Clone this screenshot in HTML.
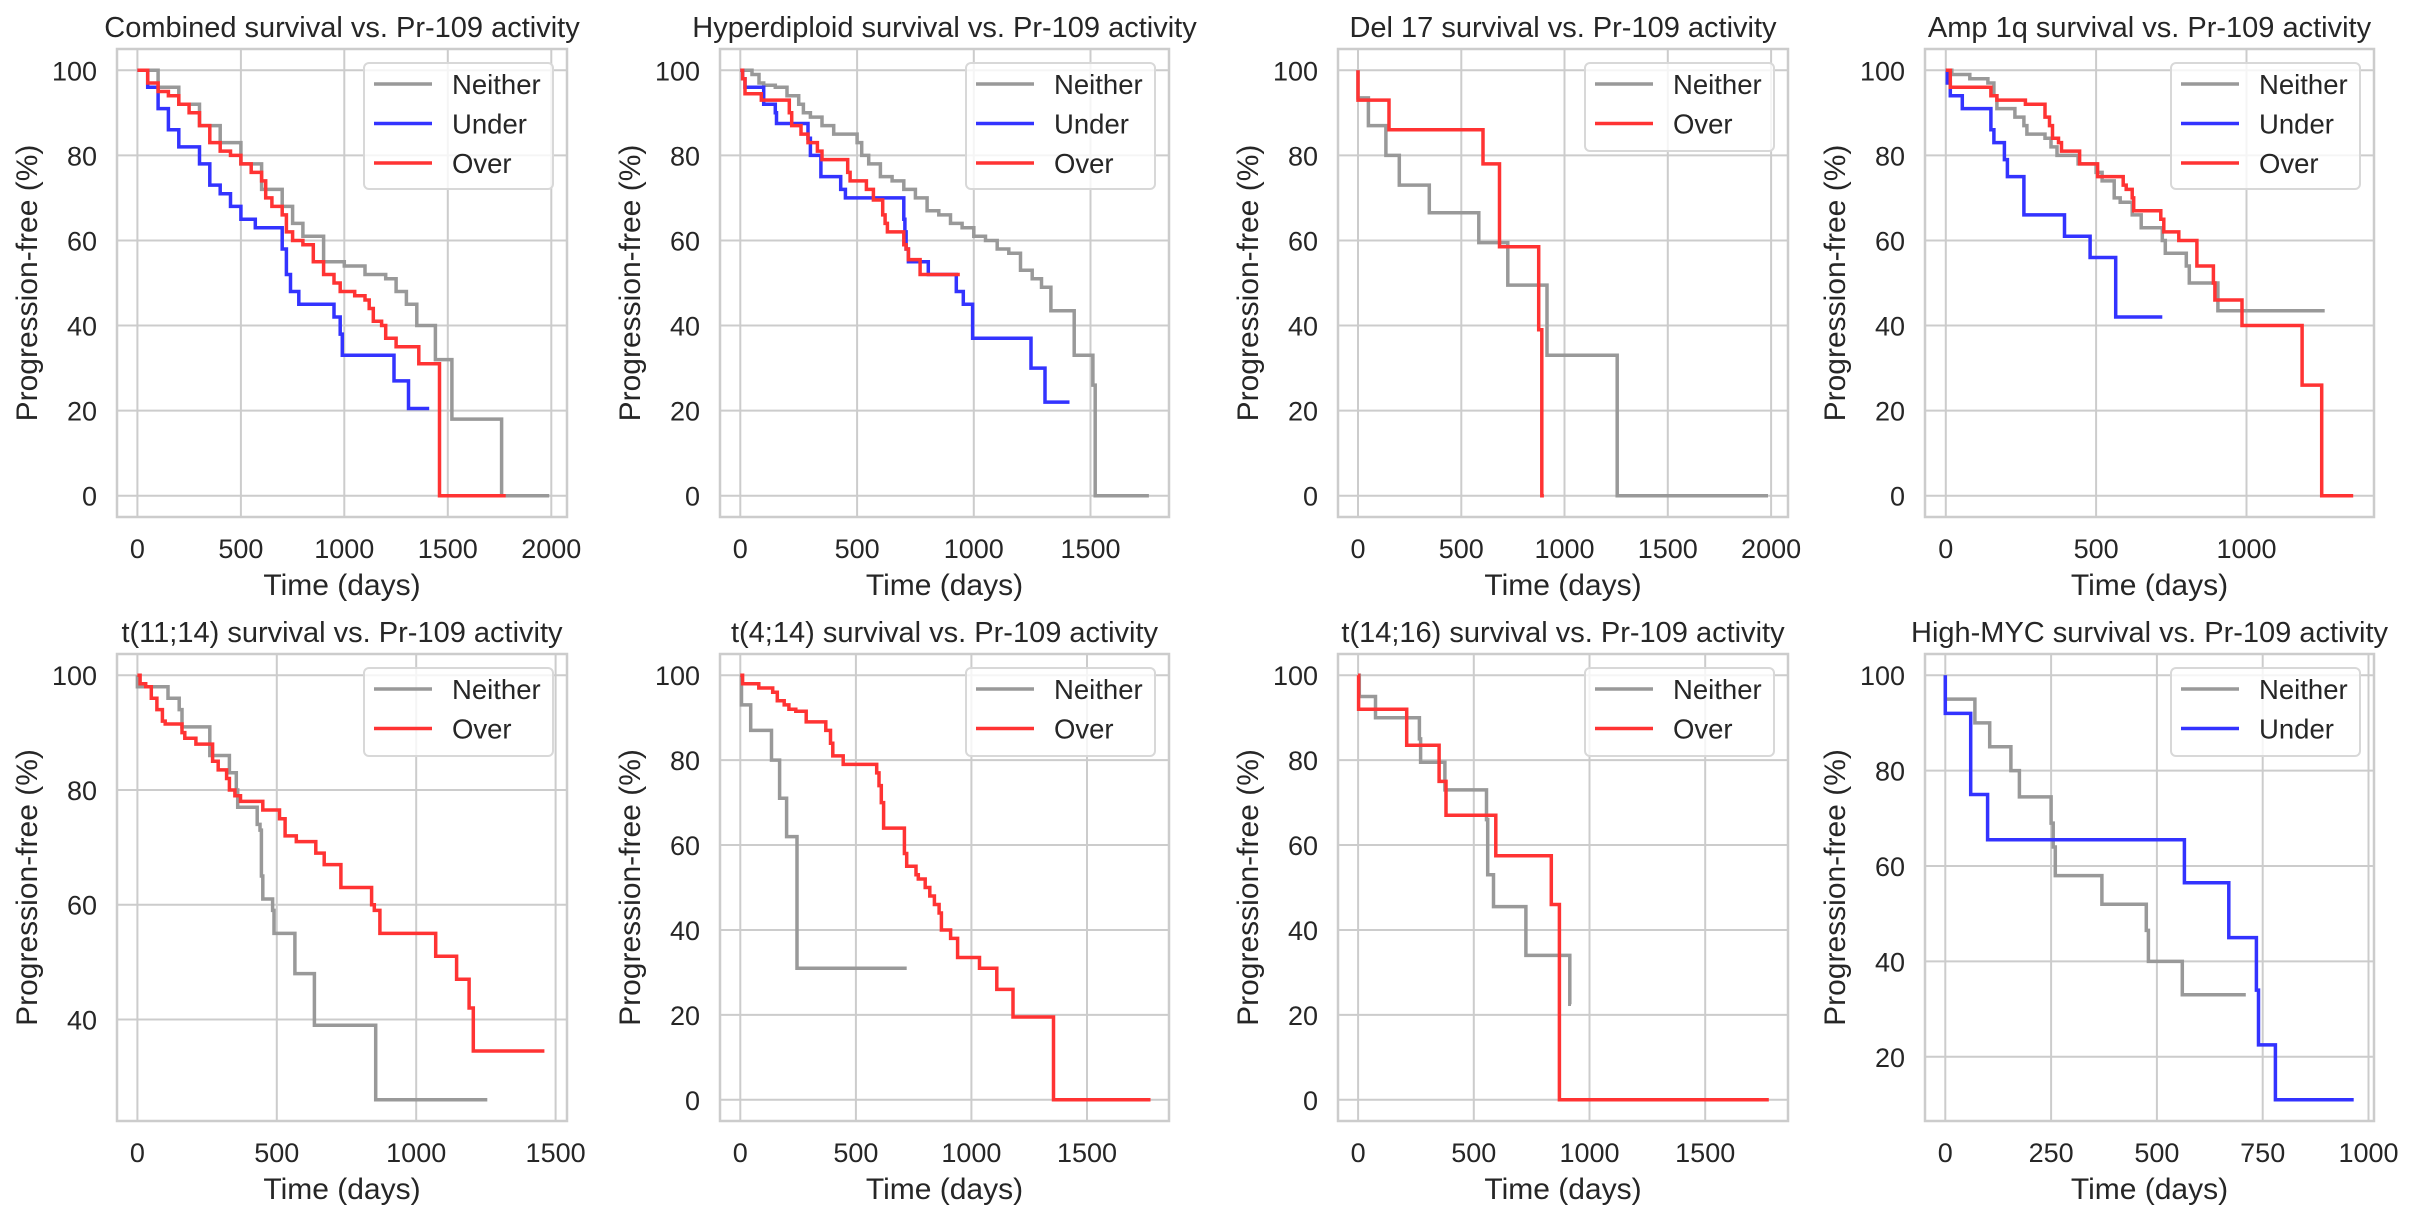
<!DOCTYPE html>
<html><head><meta charset="utf-8">
<style>
html,body{margin:0;padding:0;background:#fff;}
svg{display:block;}
text{font-family:"Liberation Sans","DejaVu Sans",sans-serif;fill:#262626;}
</style></head>
<body>
<svg id="s" width="2413" height="1218" xmlns="http://www.w3.org/2000/svg"></svg>
<script>
const G='#999999',B='#3333ff',R='#ff3333';
const P=[
{t:'Combined survival vs. Pr-109 activity',L:117,T:49,W:450,H:468,xl:[-98.5,2076],yl:[-5,105],xt:[0,500,1000,1500,2000],yt:[0,20,40,60,80,100],
 s:[['Neither',G,[[0,100],[100,96],[200,92],[300,87],[400,83],[500,78],[600,72],[700,68],[750,64],[800,61],[900,55],[1000,54],[1100,52],[1200,51],[1250,48],[1300,45],[1350,40],[1430,40],[1440,32],[1500,32],[1520,18],[1750,18],[1760,0],[1990,0]]],
 ['Under',B,[[0,100],[50,96],[100,91],[150,86],[200,82],[250,82],[300,78],[350,73],[400,71],[450,68],[500,65],[560,65],[570,63],[680,63],[700,58],[720,52],[740,48],[780,45],[900,45],[950,42],[980,38],[990,33],[1230,33],[1240,27],[1300,27],[1310,20.5],[1410,20.5]]],
 ['Over',R,[[0,100],[50,97],[100,95],[150,94],[200,92],[250,90],[300,87],[350,83],[400,81],[450,80],[500,78],[550,76],[600,74],[620,70],[650,68],[700,66],[720,62],[750,60],[800,59],[850,55],[900,52],[950,50],[980,48],[1050,47],[1100,46],[1120,44],[1140,41],[1180,40],[1200,37],[1250,35],[1350,35],[1360,31],[1460,31],[1460,0],[1780,0]]]]},
{t:'Hyperdiploid survival vs. Pr-109 activity',L:720,T:49,W:449,H:468,xl:[-87,1836],yl:[-5,105],xt:[0,500,1000,1500],yt:[0,20,40,60,80,100],
 s:[['Neither',G,[[0,100],[30,100],[50,99],[80,97],[100,96.5],[150,96],[200,94],[250,92],[270,90],[300,89],[350,87],[400,85],[450,85],[500,83],[520,80],[550,78],[600,75],[650,74],[700,72],[750,70],[800,67],[850,66],[900,64],[950,63],[1000,61],[1050,60],[1100,58],[1150,57],[1200,53],[1250,51],[1290,49],[1330,43.5],[1420,43.5],[1430,33],[1500,33],[1510,26],[1520,0],[1750,0]]],
 ['Under',B,[[0,100],[10,98],[20,96],[90,96],[100,92],[140,92],[150,90],[155,87.5],[270,87.5],[290,84],[300,80],[340,80],[345,75],[420,75],[430,72],[450,70],[690,70],[700,65],[705,62],[710,58],[720,55],[800,55],[805,52],[920,52],[925,48],[950,48],[955,45],[990,45],[995,37],[1240,37],[1245,30],[1300,30],[1305,22],[1410,22]]],
 ['Over',R,[[0,100],[10,98],[20,94.5],[80,94.5],[90,93],[160,93],[210,90],[220,87],[250,87],[260,85],[280,85],[290,83],[320,83],[330,81],[350,79],[440,79],[460,76],[470,74],[530,74],[540,72],[570,69.5],[600,69.5],[610,66],[620,64],[630,62],[690,62],[700,59],[710,58],[720,55.5],[760,55.5],[770,52],[940,52]]]]},
{t:'Del 17 survival vs. Pr-109 activity',L:1338,T:49,W:450,H:468,xl:[-97,2082],yl:[-5,105],xt:[0,500,1000,1500,2000],yt:[0,20,40,60,80,100],
 s:[['Neither',G,[[0,100],[0,93.5],[45,93.5],[50,87],[130,87],[135,80],[195,80],[200,73],[340,73],[345,66.5],[580,66.5],[585,59.5],[720,59.5],[725,49.5],[910,49.5],[915,33],[1250,33],[1255,0],[1985,0]]],
 ['Over',R,[[0,100],[0,93],[145,93],[150,86],[600,86],[605,78],[680,78],[685,58.5],[870,58.5],[875,39],[885,39],[890,0],[900,0]]]]},
{t:'Amp 1q survival vs. Pr-109 activity',L:1925,T:49,W:449,H:468,xl:[-69,1424],yl:[-5,105],xt:[0,500,1000],yt:[0,20,40,60,80,100],
 s:[['Neither',G,[[0,100],[20,99],[80,98],[140,97],[160,94],[170,91],[230,89],[260,87],[270,85],[330,84],[350,82],[370,80],[440,78],[500,76],[520,74],[560,70],[580,69],[620,66],[650,63],[710,63],[720,60],[730,57],[790,57],[800,54],[810,50],[900,50],[905,43.5],[1260,43.5]]],
 ['Under',B,[[0,100],[5,97],[15,94],[55,91],[140,91],[150,86],[160,83],[195,79],[205,75],[255,75],[260,66],[390,66],[395,61],[475,61],[480,56],[560,56],[565,42],[720,42]]],
 ['Over',R,[[0,100],[15,96],[140,96],[150,94],[170,93],[260,93],[265,92],[325,92],[330,89],[345,87],[355,84],[375,83],[385,81],[440,81],[445,78],[500,78],[505,75],[580,75],[590,73],[600,72],[620,70],[625,67],[710,67],[715,65],[725,62],[770,62],[775,60],[830,60],[835,54],[880,54],[890,50],[895,46],[980,46],[985,40],[1180,40],[1185,26],[1245,26],[1250,0],[1355,0]]]]},
{t:'t(11;14) survival vs. Pr-109 activity',L:117,T:654,W:450,H:467,xl:[-73,1541],yl:[22.3,103.7],xt:[0,500,1000,1500],yt:[40,60,80,100],
 s:[['Neither',G,[[0,100],[0,98],[105,98],[110,96],[150,94],[160,91],[255,91],[260,86],[325,86],[330,83],[350,83],[355,80],[360,77],[425,77],[430,74],[440,73],[445,65],[450,61],[480,61],[485,59],[490,55],[560,55],[565,48],[630,48],[635,39],[850,39],[855,26],[1255,26]]],
 ['Over',R,[[0,100],[10,98.5],[30,98],[50,96],[70,94],[90,92],[100,91.5],[140,91.5],[160,90],[170,89],[210,88],[260,88],[270,85],[290,83.5],[320,82],[330,80],[350,79],[370,78],[440,78],[450,76.5],[500,76.5],[510,75],[530,72],[570,71],[630,71],[640,69],[670,67],[720,67],[730,63],[830,63],[840,60],[850,59],[870,55],[1065,55],[1070,51],[1140,51],[1145,47],[1180,47],[1190,42],[1200,42],[1205,34.5],[1460,34.5]]]]},
{t:'t(4;14) survival vs. Pr-109 activity',L:720,T:654,W:449,H:467,xl:[-88,1855],yl:[-5,105],xt:[0,500,1000,1500],yt:[0,20,40,60,80,100],
 s:[['Neither',G,[[0,100],[5,93],[40,93],[45,87],[130,87],[135,80],[165,80],[170,71],[195,71],[200,62],[240,62],[245,31],[720,31]]],
 ['Over',R,[[0,100],[10,98],[70,98],[80,97],[130,97],[140,96],[160,94],[190,93],[210,92],[240,91.5],[280,91.5],[285,89],[350,89],[370,87],[390,84],[400,81],[440,81],[445,79],[580,79],[590,77],[600,74],[610,70],[620,64],[700,64],[710,58],[720,55],[750,55],[760,53],[770,52],[800,50],[820,48],[840,46],[860,44],[870,40],[900,40],[910,38],[940,33.5],[1030,33.5],[1035,31],[1100,31],[1110,26],[1175,26],[1180,19.5],[1350,19.5],[1355,0],[1775,0]]]]},
{t:'t(14;16) survival vs. Pr-109 activity',L:1338,T:654,W:450,H:467,xl:[-87,1858],yl:[-5,105],xt:[0,500,1000,1500],yt:[0,20,40,60,80,100],
 s:[['Neither',G,[[0,100],[5,95],[70,95],[75,90],[260,90],[265,85],[270,79.5],[370,79.5],[375,73],[550,73],[555,66],[560,53],[580,53],[585,45.5],[720,45.5],[725,34],[910,34],[915,22.5],[920,22.5]]],
 ['Over',R,[[0,100],[2,92],[205,92],[210,83.5],[345,83.5],[350,75],[375,75],[380,67],[590,67],[595,57.5],[830,57.5],[835,46],[865,46],[870,0],[1775,0]]]]},
{t:'High-MYC survival vs. Pr-109 activity',L:1925,T:654,W:449,H:467,xl:[-48,1013],yl:[6.55,104.45],xt:[0,250,500,750,1000],yt:[20,40,60,80,100],
 s:[['Neither',G,[[0,100],[0,95],[65,95],[70,90],[100,90],[105,85],[150,85],[155,80],[170,80],[175,74.5],[245,74.5],[250,69],[255,64],[260,58],[365,58],[370,52],[470,52],[475,46.5],[480,40],[555,40],[560,33],[710,33]]],
 ['Under',B,[[0,100],[0,92],[57,92],[60,75],[97,75],[100,65.5],[560,65.5],[565,56.5],[665,56.5],[670,45],[730,45],[735,34],[740,22.5],[775,22.5],[780,11],[965,11]]]]}
];
let h='';
for(const p of P){
 const X=v=>p.L+(v-p.xl[0])/(p.xl[1]-p.xl[0])*p.W;
 const Y=v=>p.T+p.H-(v-p.yl[0])/(p.yl[1]-p.yl[0])*p.H;
 for(const v of p.xt){const x=X(v).toFixed(1);h+=`<line x1="${x}" y1="${p.T}" x2="${x}" y2="${p.T+p.H}" stroke="#cccccc" stroke-width="2"/>`;
  h+=`<text x="${x}" y="${p.T+p.H+41}" font-size="27" text-anchor="middle">${v}</text>`;}
 for(const v of p.yt){const y=Y(v).toFixed(1);h+=`<line x1="${p.L}" y1="${y}" x2="${p.L+p.W}" y2="${y}" stroke="#cccccc" stroke-width="2"/>`;
  h+=`<text x="${p.L-20}" y="${(+y+10).toFixed(1)}" font-size="27" text-anchor="end">${v}</text>`;}
 h+=`<rect x="${p.L}" y="${p.T}" width="${p.W}" height="${p.H}" fill="none" stroke="#cccccc" stroke-width="2.5"/>`;
 for(const [n,c,d] of p.s){let s=`M${X(d[0][0]).toFixed(1)},${Y(d[0][1]).toFixed(1)}`;
  for(let i=1;i<d.length;i++){s+=`H${X(d[i][0]).toFixed(1)}V${Y(d[i][1]).toFixed(1)}`;}
  h+=`<path d="${s}" fill="none" stroke="${c}" stroke-width="3.5" stroke-linejoin="miter"/>`;}
 const n=p.s.length, lw=189, lh=n==3?126:88, lx=p.L+p.W-14-lw, ly=p.T+14;
 h+=`<rect x="${lx}" y="${ly}" width="${lw}" height="${lh}" rx="5" fill="#ffffff" fill-opacity="0.8" stroke="#d8d8d8" stroke-width="2"/>`;
 p.s.forEach(([nm,c],i)=>{const y=ly+21+i*39.5;
  h+=`<line x1="${lx+10}" y1="${y}" x2="${lx+68}" y2="${y}" stroke="${c}" stroke-width="3.5"/>`;
  h+=`<text x="${lx+88}" y="${y+10}" font-size="27.5">${nm}</text>`;});
 h+=`<text x="${p.L+p.W/2}" y="${p.T-12}" font-size="29" text-anchor="middle">${p.t}</text>`;
 h+=`<text x="${p.L+p.W/2}" y="${p.T+p.H+78}" font-size="30" text-anchor="middle">Time (days)</text>`;
 const cx=p.L-90, cy=p.T+p.H/2;
 h+=`<text x="${cx}" y="${cy}" font-size="30" text-anchor="middle" transform="rotate(-90 ${cx} ${cy})" dy="10">Progression-free (%)</text>`;
}
document.getElementById('s').innerHTML=h;
</script>
</body></html>
